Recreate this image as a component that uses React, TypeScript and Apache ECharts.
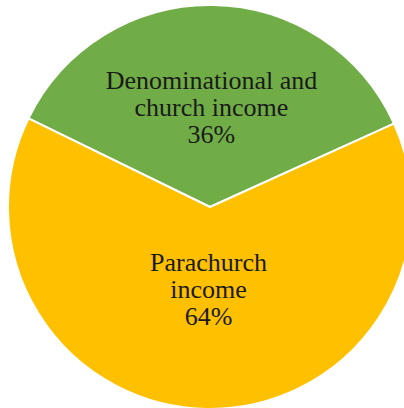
import React, { useEffect, useRef } from "react";
import * as echarts from "echarts";

const categories = ["Denominational and\nchurch income", "Parachurch\nincome"];
const values = [36, 64];
const colors = ["#70AD47", "#FFC000"];

export default function App() {
  const ref = useRef<HTMLDivElement>(null);
  useEffect(() => {
    const chart = echarts.init(ref.current!, null, { renderer: "svg" });
    chart.setOption({
      animation: false,
      backgroundColor: "#ffffff",
      series: [
        {
          type: "pie",
          center: [210, 207],
          radius: 202,
          startAngle: 154,
          clockwise: true,
          data: categories.map((c, i) => ({
            name: c,
            value: values[i],
            itemStyle: { color: colors[i] },
          })),
          itemStyle: { borderColor: "#ffffff", borderWidth: 2 },
          label: {
            show: true,
            position: "inside",
            formatter: "{b}\n{d}%",
            fontFamily: "Liberation Serif, serif",
            fontSize: 26,
            lineHeight: 27,
            color: "#1a1a1a",
            align: "center",
          },
          labelLayout: (p: any) => (p.dataIndex === 1 ? { dy: -21 } : { dy: 4 }),
          labelLine: { show: false },
        },
      ],
    });
    return () => chart.dispose();
  }, []);
  return (
    <div
      ref={ref}
      style={{ position: "fixed", left: 0, top: 0, width: 404, height: 408 }}
    />
  );
}
